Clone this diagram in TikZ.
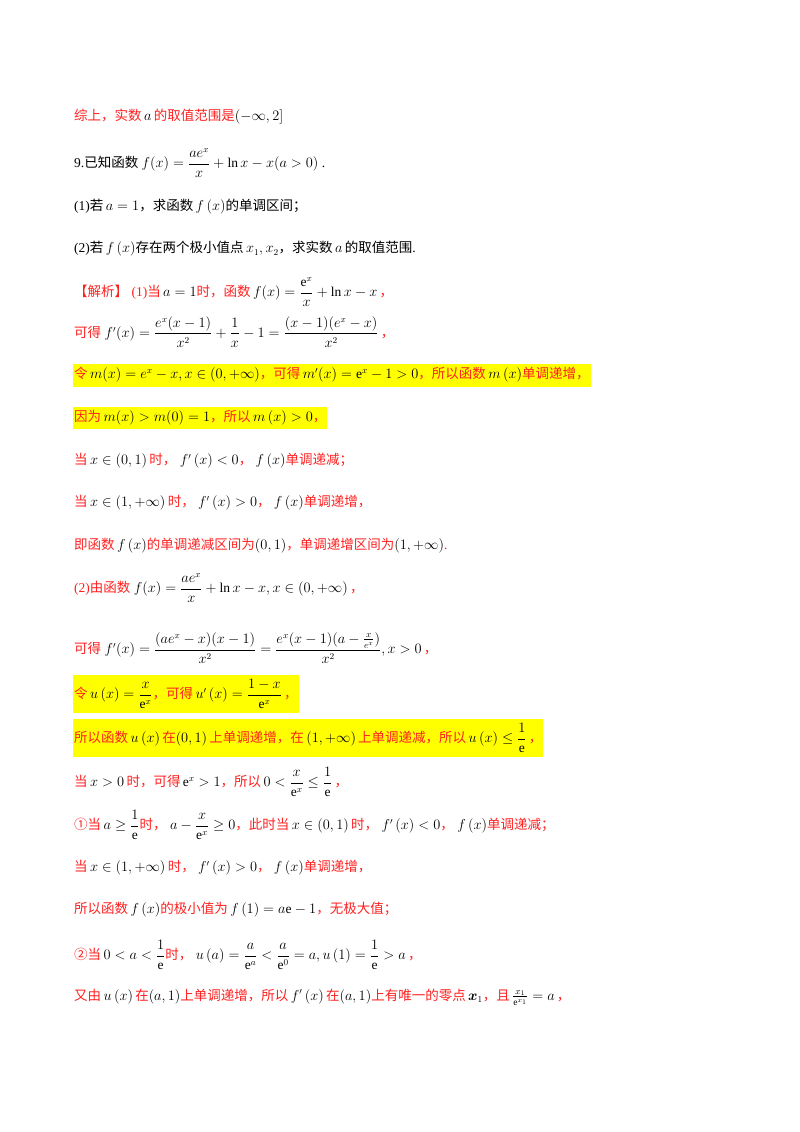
\documentclass[tikz,border=0pt]{standalone}
\usepackage{amsmath,amssymb}
\usepackage{fontspec}
\setmainfont{Liberation Serif}
\newfontfamily\cjk{Noto Sans CJK SC}
\definecolor{myred}{HTML}{FF2020}
\definecolor{hl}{HTML}{FFFF00}
\tikzset{ln/.style={anchor=west,inner sep=0pt,font=\fontsize{13.5}{16}\selectfont},
 rd/.style={ln,text=myred},
 hi/.style={rd,fill=hl,inner ysep=4pt,inner xsep=1pt}}
\newcommand{\cn}[1]{{\cjk #1}}
\everymath{\color{black}}
\begin{document}
\begin{tikzpicture}[x=1pt,y=-1pt]
\useasboundingbox (0,0) rectangle (800,1132);
\node[rd] (l1) at (74,117) {\cn{综上，实数}$\,a\,$\cn{的取值范围是}$\left(-\infty,2\right]$};
\node[ln] (l2) at (74,163) {9.\cn{已知函数}$\ f(x)=\dfrac{ae^{x}}{x}+\ln x-x(a>0)$ .};
\node[ln] (l3) at (74,207) {(1)\cn{若}$\,a=1$\cn{，求函数}$\,f\left(x\right)$\cn{的单调区间；}};
\node[ln] (l4) at (74,249) {(2)\cn{若}$\,f\left(x\right)$\cn{存在两个极小值点}$\,x_1,x_2$\cn{，求实数}$\,a\,$\cn{的取值范围}.};
\node[rd] (l5) at (74,292) {\cn{【解析】}\ (1)\cn{当}$\,a=1$\cn{时，函数}$\,f(x)=\dfrac{\mathrm{e}^{x}}{x}+\ln x-x$\,\cn{，}};
\node[rd] (l6) at (74,332) {\cn{可得}$\ f'(x)=\dfrac{e^{x}(x-1)}{x^{2}}+\dfrac{1}{x}-1=\dfrac{(x-1)(e^{x}-x)}{x^{2}}$\,\cn{，}};
\node[hi] (l7) at (73,375) {\cn{令}$\,m(x)=e^{x}-x,x\in(0,+\infty)$\cn{，可得}$\,m'(x)=\mathrm{e}^{x}-1>0$\cn{，所以函数}$\,m\left(x\right)$\cn{单调递增，}};
\node[hi] (l8) at (73,418) {\cn{因为}$\,m(x)>m(0)=1$\cn{，所以}$\,m\left(x\right)>0$\cn{，}};
\node[rd] (l9) at (74,461) {\cn{当}$\,x\in(0,1)\,$\cn{时，}$\ f'\left(x\right)<0$\cn{，}$\ f\left(x\right)$\cn{单调递减；}};
\node[rd] (l10) at (74,503) {\cn{当}$\,x\in(1,+\infty)\,$\cn{时，}$\ f'\left(x\right)>0$\cn{，}$\ f\left(x\right)$\cn{单调递增，}};
\node[rd] (l11) at (74,546) {\cn{即函数}$\,f\left(x\right)$\cn{的单调递减区间为}$(0,1)$\cn{，单调递增区间为}$(1,+\infty)$.};
\node[rd] (l12) at (74,588) {(2)\cn{由函数}$\ f(x)=\dfrac{ae^{x}}{x}+\ln x-x,x\in(0,+\infty)$\,\cn{，}};
\node[rd] (l13) at (74,648) {\cn{可得}$\ f'(x)=\dfrac{(ae^{x}-x)(x-1)}{x^{2}}=\dfrac{e^{x}(x-1)(a-\frac{x}{e^{x}})}{x^{2}},x>0$\,\cn{，}};
\node[hi] (l14) at (73,694) {\cn{令}$\,u\left(x\right)=\dfrac{x}{\mathrm{e}^{x}}$\cn{，可得}$\,u'\left(x\right)=\dfrac{1-x}{\mathrm{e}^{x}}$\,\cn{，}};
\node[hi] (l15) at (73,738) {\cn{所以函数}$\,u\left(x\right)$\,\cn{在}$(0,1)$\,\cn{上单调递增，在}$\,(1,+\infty)$\,\cn{上单调递减，所以}$\,u\left(x\right)\le\dfrac{1}{\mathrm{e}}$\,\cn{，}};
\node[rd] (l16) at (74,782) {\cn{当}$\,x>0\,$\cn{时，可得}$\,\mathrm{e}^{x}>1$\cn{，所以}$\,0<\dfrac{x}{\mathrm{e}^{x}}\le\dfrac{1}{\mathrm{e}}$\,\cn{，}};
\node[rd] (l17) at (74,825) {\cn{①当}$\,a\ge\dfrac{1}{\mathrm{e}}$\cn{时，}$\ a-\dfrac{x}{\mathrm{e}^{x}}\ge0$\cn{，此时当}$\,x\in(0,1)\,$\cn{时，}$\ f'\left(x\right)<0$\cn{，}$\ f\left(x\right)$\cn{单调递减；}};
\node[rd] (l18) at (74,868) {\cn{当}$\,x\in(1,+\infty)\,$\cn{时，}$\ f'\left(x\right)>0$\cn{，}$\ f\left(x\right)$\cn{单调递增，}};
\node[rd] (l19) at (74,910) {\cn{所以函数}$\,f\left(x\right)$\cn{的极小值为}$\,f\left(1\right)=a\mathrm{e}-1$\cn{，无极大值；}};
\node[rd] (l20) at (74,955) {\cn{②当}$\,0<a<\dfrac{1}{\mathrm{e}}$\cn{时，}$\ u\left(a\right)=\dfrac{a}{\mathrm{e}^{a}}<\dfrac{a}{\mathrm{e}^{0}}=a,u\left(1\right)=\dfrac{1}{\mathrm{e}}>a$\,\cn{，}};
\node[rd] (l21) at (74,997) {\cn{又由}$\,u\left(x\right)$\,\cn{在}$\left(a,1\right)$\cn{上单调递增，所以}$\,f'\left(x\right)$\,\cn{在}$\left(a,1\right)$\cn{上有唯一的零点}$\,\boldsymbol{x}_1$\cn{，且}$\,\frac{x_1}{\mathrm{e}^{x_1}}=a$\,\cn{，}};
\end{tikzpicture}
\end{document}
